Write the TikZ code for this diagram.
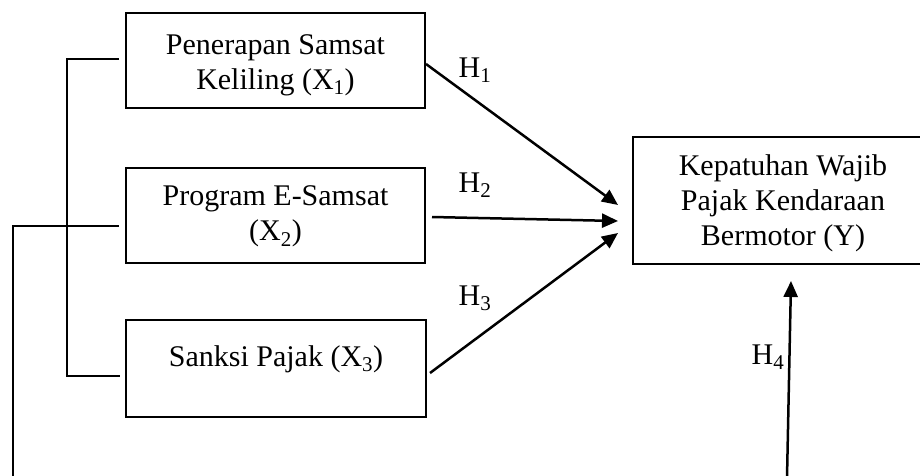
\documentclass[tikz,border=0pt]{standalone}
\usepackage{fontspec}
\setmainfont{Liberation Serif}
\usetikzlibrary{arrows.meta}
\begin{document}
\begin{tikzpicture}[x=1pt,y=-1pt,
  box/.style={draw, line width=2.7pt, inner sep=0pt},
  txt/.style={font=\fontsize{30}{35}\selectfont, inner sep=0pt, align=center},
  link/.style={line width=1.1pt},
  arr/.style={line width=2.5pt, -{Triangle[length=16pt,width=14pt]}}]
\useasboundingbox (0,0) rectangle (920,476);

% boxes
\node[box, minimum width=299pt, minimum height=95pt] (x1) at (275.5,60.5) {};
\node[txt] (x1t) at (275.5,65) {Penerapan Samsat\\Keliling (X\textsubscript{1})};
\node[box, minimum width=299pt, minimum height=95pt] (x2) at (275.5,215.5) {};
\node[txt] (x2t) at (275.5,216.5) {Program E-Samsat\\(X\textsubscript{2})};
\node[box, minimum width=300pt, minimum height=97pt] (x3) at (276,368.5) {};
\node[txt] (x3t) at (276,359) {Sanksi Pajak (X\textsubscript{3})};
\node[box, minimum width=300pt, minimum height=127pt] (y) at (783,200.5) {};
\node[txt] (yt) at (783,203) {Kepatuhan Wajib\\Pajak Kendaraan\\Bermotor (Y)};

% hypothesis labels
\node[txt] (h1) at (475,70) {H\textsubscript{1}};
\node[txt] (h2) at (475,185) {H\textsubscript{2}};
\node[txt] (h3) at (475,298) {H\textsubscript{3}};
\node[txt] (h4) at (768,357) {H\textsubscript{4}};

% arrow end points
\coordinate (a1s) at (426,64);
\coordinate (a1e) at (618,205);
\coordinate (a2s) at (432,217);
\coordinate (a2e) at (618,221);
\coordinate (a3s) at (430,373);
\coordinate (a3e) at (618,233);
\coordinate (a4s) at (787,478);
\coordinate (a4e) at (791,281);

\draw[arr] (a1s) -- (a1e);
\draw[arr] (a2s) -- (a2e);
\draw[arr] (a3s) -- (a3e);
\draw[arr] (a4s) -- (a4e);

% bracket lines
\coordinate (b1) at (67,59);
\coordinate (b1r) at (119,59);
\coordinate (b2) at (67,226);
\coordinate (b2r) at (119,226);
\coordinate (b3) at (67,376);
\coordinate (b3r) at (120,376);
\coordinate (c1) at (13,226);
\coordinate (c2) at (13,478);

\draw[link] (b1r) -- (b1) -- (b3) -- (b3r);
\draw[link] (c2) -- (c1) -- (b2r);
\end{tikzpicture}
\end{document}
